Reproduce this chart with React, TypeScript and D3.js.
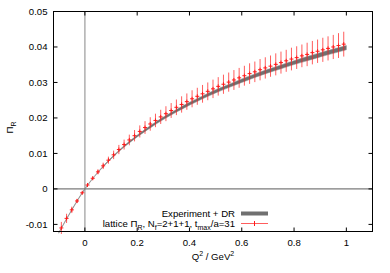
import React from 'react'
import * as d3 from 'd3'

// lattice data: Q^2 (GeV^2), Pi_R, error
const latticeQ2 = [
  -0.09, -0.07, -0.05, -0.03, -0.01, 0.01, 0.03, 0.05, 0.07, 0.09,
  0.11, 0.13, 0.15, 0.17, 0.19, 0.21, 0.23, 0.25, 0.27, 0.29,
  0.31, 0.33, 0.35, 0.37, 0.39, 0.41, 0.43, 0.45, 0.47, 0.49,
  0.51, 0.53, 0.55, 0.57, 0.59, 0.61, 0.63, 0.65, 0.67, 0.69,
  0.71, 0.73, 0.75, 0.77, 0.79, 0.81, 0.83, 0.85, 0.87, 0.89,
  0.91, 0.93, 0.95, 0.97, 0.99,
]
const latticePi = [
  -0.011, -0.0083, -0.0059, -0.0034, -0.0011, 0.0011, 0.003, 0.0048, 0.0065, 0.0081,
  0.0096, 0.0111, 0.0125, 0.0138, 0.015, 0.0162, 0.0173, 0.0183, 0.0193, 0.0203,
  0.0212, 0.0221, 0.023, 0.0238, 0.0246, 0.0254, 0.0261, 0.0268, 0.0275, 0.0282,
  0.0289, 0.0295, 0.0301, 0.0307, 0.0313, 0.0319, 0.0325, 0.033, 0.0336, 0.0341,
  0.0346, 0.0351, 0.0356, 0.0361, 0.0366, 0.037, 0.0375, 0.0379, 0.0384, 0.0388,
  0.0392, 0.0396, 0.04, 0.0404, 0.0408,
]
const latticeErr = [
  0.0017, 0.0013, 0.0009, 0.0006, 0.0003, 0.0003, 0.0005, 0.0007, 0.0009, 0.001,
  0.0012, 0.0013, 0.0014, 0.0015, 0.0016, 0.0017, 0.0018, 0.0019, 0.0019, 0.002,
  0.0021, 0.0021, 0.0022, 0.0023, 0.0023, 0.0024, 0.0024, 0.0025, 0.0025, 0.0026,
  0.0026, 0.0027, 0.0027, 0.0028, 0.0028, 0.0028, 0.0029, 0.0029, 0.003, 0.003,
  0.003, 0.0031, 0.0031, 0.0031, 0.0032, 0.0032, 0.0032, 0.0033, 0.0033, 0.0033,
  0.0034, 0.0034, 0.0034, 0.0035, 0.0035,
]

// experiment + dispersion relation band
const expQ2 = [
  -0.1, -0.05, 0, 0.05, 0.1, 0.15, 0.2, 0.25, 0.3, 0.35, 0.4, 0.45,
  0.5, 0.55, 0.6, 0.65, 0.7, 0.75, 0.8, 0.85, 0.9, 0.95, 1.0,
]
const expPi = [
  -0.0124, -0.0059, 0, 0.0047, 0.0086, 0.012, 0.0149, 0.0175, 0.0199, 0.022, 0.024, 0.0258,
  0.0275, 0.029, 0.0305, 0.0319, 0.0332, 0.0344, 0.0356, 0.0367, 0.0378, 0.0388, 0.0398,
]
const expErr = [
  0.0001, 0.0001, 0.0001, 0.0001, 0.00015, 0.0002, 0.00025, 0.0003, 0.00035, 0.00035, 0.0004, 0.0004,
  0.00045, 0.00045, 0.0005, 0.0005, 0.0005, 0.00055, 0.00055, 0.0006, 0.0006, 0.0006, 0.0006,
]

const xTicks = [0, 0.2, 0.4, 0.6, 0.8, 1]
const yTicks = [-0.01, 0, 0.01, 0.02, 0.03, 0.04, 0.05]

const W = 390
const H = 273
const margin = { left: 53.5, right: 17.5, top: 11.5, bottom: 41.5 }
const FONT = '"Liberation Sans", Arial, Helvetica, sans-serif'

export default function App() {
  const x = d3.scaleLinear().domain([-0.12, 1.1]).range([margin.left, W - margin.right])
  const y = d3.scaleLinear().domain([-0.012, 0.05]).range([H - margin.bottom, margin.top])
  const [x0, x1] = x.range()
  const [yb, yt] = y.range()

  const band = expQ2.map((q, i) => ({ q, v: expPi[i], e: expErr[i] }))
  const bandArea = d3.area<{ q: number; v: number; e: number }>()
    .x(d => x(d.q))
    .y0(d => y(d.v - d.e))
    .y1(d => y(d.v + d.e))
    .curve(d3.curveMonotoneX)

  const pts = latticeQ2.map((q, i) => ({ q, v: latticePi[i], e: latticeErr[i] }))
  const red = '#ff1a1a'

  return (
    <svg width={W} height={H} style={{ position: 'absolute', left: 0, top: 0, background: '#fff' }}
      fontFamily={FONT} fontSize={9.6}>
      {/* zero axes */}
      <line x1={x(0)} x2={x(0)} y1={yt} y2={yb} stroke="#b4b4b4" strokeWidth={1.6} />
      <line x1={x0} x2={x1} y1={y(0)} y2={y(0)} stroke="#5a5a5a" strokeWidth={1} />

      {/* experiment band */}
      <path d={bandArea(band) || ''} fill="#707070" stroke="#8a8a8a" strokeWidth={0.5} />

      {/* lattice points with error bars */}
      {pts.map((p, i) => (
        <g key={i} stroke={red} strokeWidth={1}>
          <line x1={x(p.q)} x2={x(p.q)} y1={y(p.v - p.e)} y2={y(p.v + p.e)} opacity={0.7} />
          <line x1={x(p.q) - 2} x2={x(p.q) + 2} y1={y(p.v)} y2={y(p.v)} />
          <line x1={x(p.q)} x2={x(p.q)} y1={y(p.v) - 2} y2={y(p.v) + 2} />
        </g>
      ))}

      {/* frame */}
      <rect x={x0} y={yt} width={x1 - x0} height={yb - yt} fill="none" stroke="#000" strokeWidth={1} />

      {/* x ticks */}
      {xTicks.map(t => (
        <g key={'x' + t}>
          <line x1={x(t)} x2={x(t)} y1={yb} y2={yb - 4} stroke="#000" />
          <line x1={x(t)} x2={x(t)} y1={yt} y2={yt + 4} stroke="#000" />
          <text x={x(t)} y={yb + 14} textAnchor="middle" fill="#000">{String(t)}</text>
        </g>
      ))}
      {/* y ticks */}
      {yTicks.map(t => (
        <g key={'y' + t}>
          <line x1={x0} x2={x0 + 4} y1={y(t)} y2={y(t)} stroke="#000" />
          <line x1={x1} x2={x1 - 4} y1={y(t)} y2={y(t)} stroke="#000" />
          <text x={x0 - 6} y={y(t)} dy="0.35em" textAnchor="end" fill="#000">{String(t)}</text>
        </g>
      ))}

      {/* axis labels */}
      <text x={(x0 + x1) / 2} y={260} textAnchor="middle" fill="#000">
        Q<tspan dy={-4} fontSize={7}>2</tspan><tspan dy={4}> / GeV</tspan><tspan dy={-4} fontSize={7}>2</tspan>
      </text>
      <text transform={`translate(13,${(yt + yb) / 2 + 6}) rotate(-90)`} textAnchor="middle" fill="#000">
        Π<tspan dy={3} fontSize={7}>R</tspan>
      </text>

      {/* legend */}
      <text x={235} y={213.5} dy="0.35em" textAnchor="end" fill="#000">Experiment + DR</text>
      <rect x={241} y={211.5} width={27} height={4} fill="#707070" />
      <text x={235} y={223.5} dy="0.35em" textAnchor="end" fill="#000">
        lattice Π<tspan dy={3} fontSize={7}>R</tspan><tspan dy={-3}>, N</tspan><tspan dy={3} fontSize={7}>f</tspan>
        <tspan dy={-3}>=2+1+1, t</tspan><tspan dy={3} fontSize={7}>max</tspan><tspan dy={-3}>/a=31</tspan>
      </text>
      <g stroke={red} strokeWidth={1}>
        <line x1={241} x2={268} y1={223.5} y2={223.5} opacity={0.7} />
        <line x1={254.5} x2={254.5} y1={221} y2={226} />
      </g>
    </svg>
  )
}
